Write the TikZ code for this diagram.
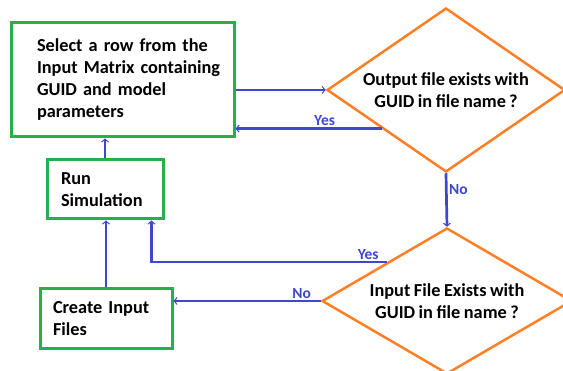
\documentclass[tikz,border=0pt]{standalone}
\usepackage{fontspec}
\setmainfont[WordSpace=0.85]{Carlito}
\usetikzlibrary{arrows.meta,shapes.geometric}
\definecolor{boxgreen}{RGB}{34,177,76}
\definecolor{dorange}{RGB}{255,127,39}
\definecolor{flowblue}{RGB}{63,72,204}
\tikzset{
  procbox/.style={draw=boxgreen, line width=3pt, rectangle, inner sep=0pt, align=left,
    font=\fontsize{18.3}{22}\selectfont\bfseries},
  decision/.style={draw=dorange, line width=2.5pt, diamond, inner sep=0pt, align=center,
    font=\fontsize{18.3}{22}\selectfont\bfseries},
  flow/.style={draw=flowblue, line width=2.7pt, -{Straight Barb[length=3pt,width=7pt,line width=1pt]}},
  flowlabel/.style={text=flowblue, font=\fontsize{15.5}{17}\selectfont\bfseries, inner sep=1.5pt}
}
\begin{document}
\begin{tikzpicture}[x=1pt,y=-1pt]
\clip (0,0) rectangle (563,371);
\useasboundingbox (0,0) rectangle (563,371);
\node[procbox, minimum width=223pt, minimum height=114pt, text width=171pt] (select) at (122.5,80)
  {\mbox{Select a row from the}\\\mbox{Input Matrix containing}\\\mbox{GUID and model}\\\mbox{parameters}};
\node[procbox, minimum width=116pt, minimum height=59pt, text width=88pt] (run) at (105,189.5)
  {\mbox{Run}\\\mbox{Simulation}};
\node[procbox, minimum width=132pt, minimum height=60pt, text width=106pt] (create) at (106,319)
  {\mbox{Create Input}\\\mbox{Files}};
\node[decision, aspect=1.45, minimum width=238pt, minimum height=164pt] (out) at (446,90)
  {Output file exists with\\GUID in file name\,?};
\node[decision, aspect=1.71, minimum width=250pt, minimum height=146pt] (inp) at (447,301)
  {Input File Exists with\\GUID in file name ?};
\draw[flow] (select.east |- out.west) -- (out.west);
\draw[flow] (out.211) -- (out.211 -| select.east)
  node[flowlabel, above, pos=0.39] {Yes};
\draw[flow] (run.north) -- (run.north |- select.south);
\draw[flow] (out.south) -- (inp.north)
  node[flowlabel, right, pos=0.3] {No};
\draw[flow] (inp.147) -| ([xshift=-13pt]run.south east)
  node[flowlabel, above, pos=0.04] {Yes};
\draw[flow] (inp.west) -- (inp.west -| create.east)
  node[flowlabel, above, pos=0.13] {No};
\draw[flow] (create.north) -- (create.north |- run.south);
\end{tikzpicture}
\end{document}
